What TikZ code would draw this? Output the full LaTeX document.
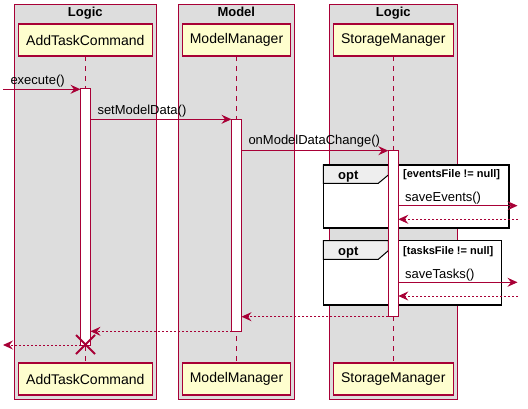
\documentclass[tikz,border=0pt]{standalone}
\usepackage{fontspec}
\setmainfont{Liberation Sans}
\usetikzlibrary{arrows.meta}
\definecolor{umlred}{HTML}{A80036}
\definecolor{umlfill}{HTML}{FEFECE}
\definecolor{grpfill}{HTML}{DDDDDD}
\definecolor{tabfill}{HTML}{EEEEEE}
\begin{document}
\begin{tikzpicture}[x=1pt,y=-1pt,
  grp/.style={draw=umlred, line width=1pt, fill=grpfill, inner sep=0pt, outer sep=0pt, anchor=north west},
  grptitle/.style={font=\fontsize{13}{15}\selectfont\bfseries, inner sep=0pt, anchor=base},
  part/.style={draw=umlred, line width=1.5pt, fill=umlfill, inner sep=0pt, outer sep=0pt, minimum height=32pt, font=\fontsize{14}{16}\selectfont},
  life/.style={draw=umlred, line width=1pt, dash pattern=on 5pt off 5pt},
  actbar/.style={draw=umlred, line width=1pt, fill=white, inner sep=0pt, outer sep=0pt, minimum width=10pt, anchor=north},
  msg/.style={draw=umlred, line width=1pt, -{Stealth[length=10pt,width=9pt,inset=3.5pt]}},
  ret/.style={msg, dash pattern=on 2pt off 2pt},
  msglabel/.style={font=\fontsize{13}{15}\selectfont, inner sep=0pt, anchor=base west},
  optframe/.style={draw=black, line width=1.5pt, fill=white, inner sep=0pt, outer sep=0pt, anchor=north west},
  opttab/.style={draw=black, line width=1pt, fill=tabfill},
  optlabel/.style={font=\fontsize{13}{15}\selectfont\bfseries, inner sep=0pt, anchor=base},
  guard/.style={font=\fontsize{11}{13}\selectfont\bfseries, inner sep=0pt, anchor=base west},
  destroy/.style={draw=umlred, line width=2pt}
]
\useasboundingbox (0,0) rectangle (528,409);

% group boxes
\node[grp, minimum width=141.7pt, minimum height=394.7pt] (g1) at (14.3,4.3) {};
\node[grp, minimum width=116pt, minimum height=394.7pt] (g2) at (178.3,4.3) {};
\node[grp, minimum width=128pt, minimum height=394.7pt] (g3) at (329.3,4.3) {};
\node[grptitle] (t1) at (85.3,17) {Logic};
\node[grptitle] (t2) at (236.3,17) {Model};
\node[grptitle] (t3) at (393.3,17) {Logic};

% opt frames
\node[optframe, minimum width=185.7pt, minimum height=63pt] (f1) at (323.3,165) {};
\draw[opttab] (f1.north west) -- (388.3,165) -- (388.3,175) -- (378.3,183.3) -- (323.3,183.3) -- cycle;
\draw[black, line width=1.5pt] (f1.north west) rectangle (f1.south east);
\node[optlabel] (o1) at (348.3,179.3) {opt};
\node[guard] (c1) at (403,177.5) {[eventsFile != null]};

\node[optframe, minimum width=178.4pt, minimum height=64.3pt] (f2) at (323.3,240.7) {};
\draw[opttab] (f2.north west) -- (388.3,240.7) -- (388.3,250.7) -- (378.3,259.3) -- (323.3,259.3) -- cycle;
\draw[black, line width=1.5pt] (f2.north west) rectangle (f2.south east);
\node[optlabel] (o2) at (348.3,255) {opt};
\node[guard] (c2) at (403,254.3) {[tasksFile != null]};

% participants
\node[part, minimum width=134pt] (a) at (85.3,40) {AddTaskCommand};
\node[part, minimum width=108.4pt] (m) at (236.5,40) {ModelManager};
\node[part, minimum width=120pt] (s) at (393.3,40) {StorageManager};
\node[part, minimum width=134pt] (a2) at (85.3,379) {AddTaskCommand};
\node[part, minimum width=108.4pt] (m2) at (236.5,379) {ModelManager};
\node[part, minimum width=120pt] (s2) at (393.3,379) {StorageManager};

% lifelines
\draw[life] (a.south) -- (a2.north);
\draw[life] (m.south) -- (m2.north);
\draw[life] (s.south) -- (s2.north);

% activation bars
\node[actbar, minimum height=256pt] (ba) at (85.5,89) {};
\node[actbar, minimum height=212pt] (bm) at (236.5,119.3) {};
\node[actbar, minimum height=166.4pt] (bs) at (393.3,150.3) {};

% free ends
\coordinate (in) at (3,89.3);
\coordinate (ext1) at (517.5,205.7);
\coordinate (ext1r) at (518,219.3);
\coordinate (ext2) at (517.5,282.3);
\coordinate (ext2r) at (518,296);
\coordinate (out) at (3,345);

% messages
\draw[msg] (in) -- (in -| ba.west);
\node[msglabel] (l1) at (10.3,84.3) {execute()};
\draw[msg] (ba.east |- 0,119.3) -- (bm.west |- 0,119.3);
\node[msglabel] (l2) at (97.3,115) {setModelData()};
\draw[msg] (bm.east |- 0,150.7) -- (bs.west |- 0,150.7);
\node[msglabel] (l3) at (248.3,145) {onModelDataChange()};
\draw[msg] (bs.east |- ext1) -- (ext1);
\node[msglabel] (l4) at (405,201.5) {saveEvents()};
\draw[ret] (ext1r) -- (bs.east |- ext1r);
\draw[msg] (bs.east |- ext2) -- (ext2);
\node[msglabel] (l5) at (405,278.3) {saveTasks()};
\draw[ret] (ext2r) -- (bs.east |- ext2r);
\draw[ret] (bs.south west) -- (bm.east |- bs.south west);
\draw[ret] (bm.south west) -- (ba.east |- bm.south west);
\draw[ret] (ba.south west) -- (out);

% destroy
\coordinate (x) at (85.5,344.5);
\draw[destroy] ([shift={(-9.5,-9.5)}]x) -- ([shift={(9.5,9.5)}]x);
\draw[destroy] ([shift={(-9.5,9.5)}]x) -- ([shift={(9.5,-9.5)}]x);
\end{tikzpicture}
\end{document}
